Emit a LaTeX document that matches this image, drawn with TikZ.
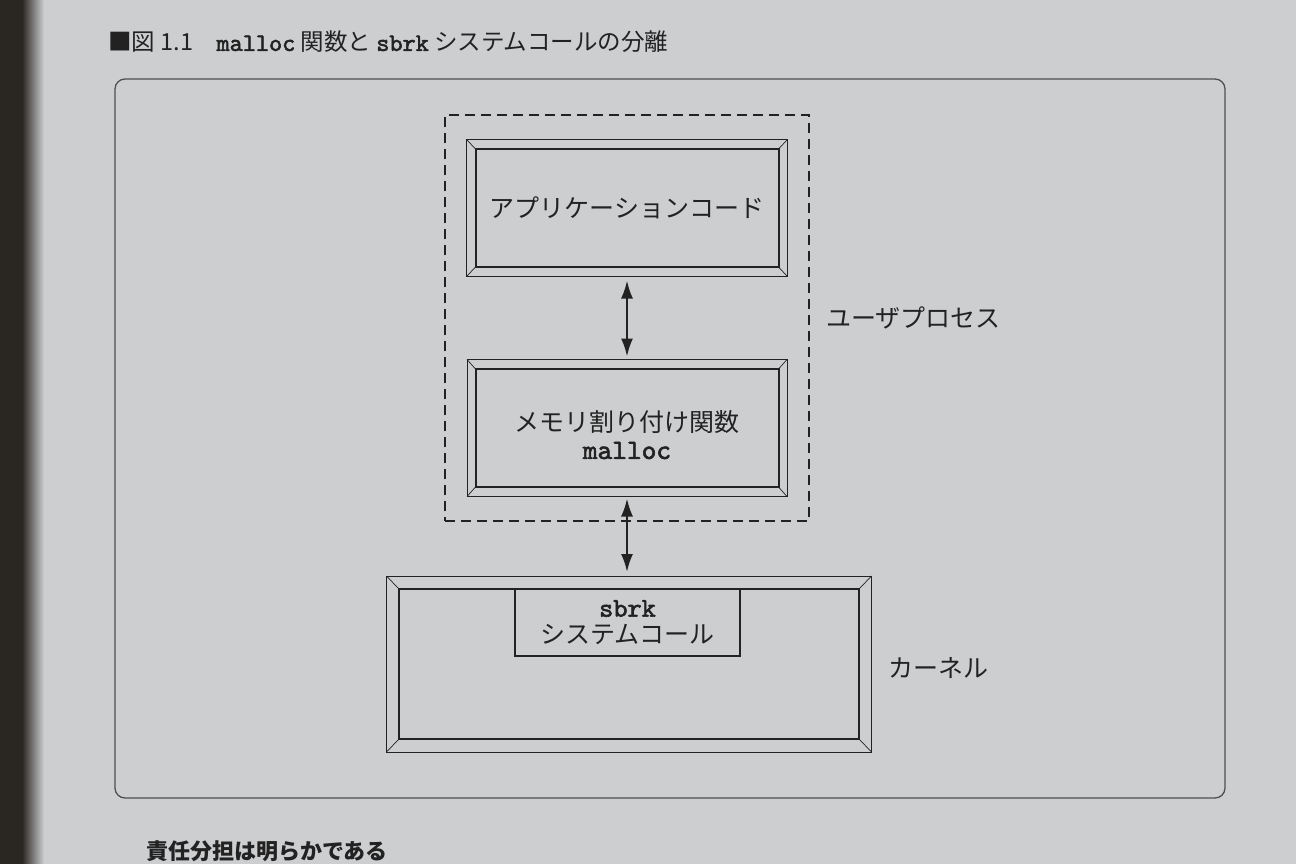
\documentclass[tikz,border=0pt]{standalone}
\usepackage{fontspec}
\setmainfont{Liberation Sans}
\newfontfamily\jp{Noto Sans CJK JP}
\newfontfamily\cour{lmmono10-regular}[Extension=.otf, FakeBold=2.2]
\usetikzlibrary{calc,arrows.meta}
\definecolor{page}{RGB}{204,206,208}
\definecolor{ink}{RGB}{34,34,34}
\definecolor{spine}{RGB}{42,38,34}
\definecolor{framec}{RGB}{80,80,80}
\newcommand\bevelcorners[2]{%
  \draw[ink, line width=0.7pt] (#1.north west) -- (#2.north west)
    (#1.north east) -- (#2.north east)
    (#1.south west) -- (#2.south west)
    (#1.south east) -- (#2.south east);}
\begin{document}
\begin{tikzpicture}[x=1pt,y=-1pt,
  outerbox/.style={draw=ink, line width=0.9pt, inner sep=0pt, outer sep=0pt},
  innerbox/.style={draw=ink, line width=2pt, inner sep=0pt, outer sep=0pt},
  lbl/.style={font=\jp\fontsize{25}{27}\selectfont, text=ink, align=center, inner sep=0pt},
  dbl/.style={draw=ink, line width=2.2pt, {Latex[length=18pt,width=12pt]}-{Latex[length=18pt,width=12pt]}},
  dashbox/.style={draw=ink, line width=1.5pt, dash pattern=on 10pt off 6pt, inner sep=0pt, outer sep=0pt},
  frame/.style={draw=framec, line width=1.3pt, rounded corners=10pt}]
\useasboundingbox (0,0) rectangle (1296,864);
% page background
\fill[page] (0,0) rectangle (1296,864);
\fill[spine] (0,0) rectangle (22,864);
\shade[left color=spine, right color=page] (22,0) rectangle (44,864);
% caption
\node[anchor=west, font=\jp\fontsize{23.5}{26}\selectfont, text=ink, inner sep=0pt] (cap) at (108,42)
  {■図 1.1\hspace{1em}{\cour\fontsize{25}{26}\selectfont malloc} 関数と {\cour\fontsize{25}{26}\selectfont sbrk} システムコールの分離};
% frame
\draw[frame] (115,79) rectangle (1225,798);
% user process dashed box
\node[dashbox, minimum width=364pt, minimum height=406pt] (user) at (627,318) {};
\node[lbl, anchor=west] (userlbl) at (826,318) {ユーザプロセス};
% application code
\node[outerbox, minimum width=321pt, minimum height=137pt] (appo) at (627,208) {};
\node[innerbox, minimum width=303pt, minimum height=118pt] (app) at (627,208) {};
\bevelcorners{appo}{app}
\node[lbl] (apptxt) at (627,208) {アプリケーションコード};
% malloc
\node[outerbox, minimum width=320pt, minimum height=137pt] (malo) at (627,428) {};
\node[innerbox, minimum width=303pt, minimum height=118pt] (mal) at (627,428) {};
\bevelcorners{malo}{mal}
\node[lbl] (maltxt) at (627,435) {メモリ割り付け関数\\{\cour\fontsize{28}{27}\selectfont malloc}};
% kernel
\node[outerbox, minimum width=485pt, minimum height=176pt] (kero) at (629,664) {};
\node[innerbox, minimum width=460pt, minimum height=150pt] (ker) at (629,664) {};
\bevelcorners{kero}{ker}
\node[lbl, anchor=west] (kerlbl) at (888,668) {カーネル};
% system call
\node[innerbox, line width=1.7pt, minimum width=225pt, minimum height=67pt, lbl] (sys) at (627.5,622.5)
  {{\cour\fontsize{27}{25}\selectfont sbrk}\\システムコール};
% arrows
\draw[dbl, shorten <=4pt, shorten >=3pt] (appo.south) -- (malo.north);
\draw[dbl, shorten <=2pt, shorten >=4pt] (malo.south) -- (malo.south |- kero.north);
% body text at the bottom of the page
\node[anchor=west, font=\jp\bfseries\fontsize{22}{24}\selectfont, text=ink, inner sep=0pt] (body) at (146,851) {責任分担は明らかである};
\end{tikzpicture}
\end{document}
